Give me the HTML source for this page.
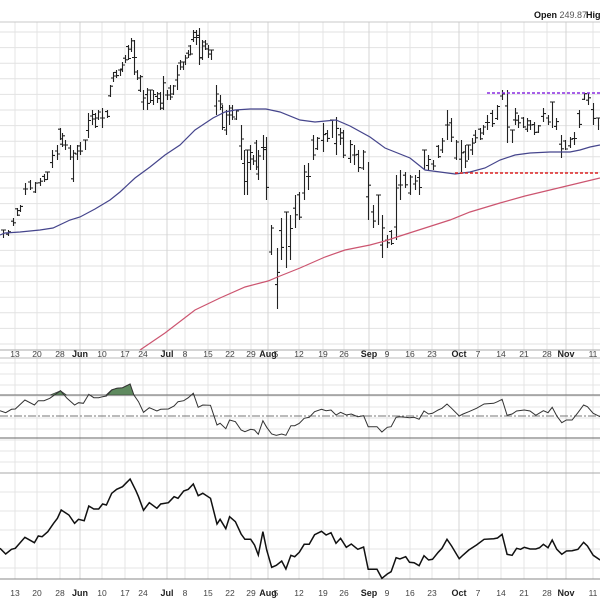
<!DOCTYPE html>
<html><head><meta charset="utf-8"><style>
html,body{margin:0;padding:0;background:#fff;}
svg{display:block;font-family:"Liberation Sans",Arial,sans-serif;}
</style></head><body>
<svg id="s" width="600" height="600" viewBox="0 0 600 600" xmlns="http://www.w3.org/2000/svg">
<rect width="600" height="600" fill="#fff"/>
<g id="grid"></g>
<g id="main"></g>
<text x="534" y="18" font-size="9" font-weight="bold" fill="#111">Open <tspan font-weight="normal" fill="#555">249.87</tspan>  <tspan x="586">High</tspan></text>
</svg>
<script>
const NS="http://www.w3.org/2000/svg";
const g=document.getElementById('grid'), m=document.getElementById('main');
function el(p,tag,a){const e=document.createElementNS(NS,tag);for(const k in a)e.setAttribute(k,a[k]);p.appendChild(e);return e;}
const labels=[["13",15],["20",37],["28",60],["Jun",80,1],["10",102],["17",125],["24",143],["Jul",167,1],["8",185],["15",208],["22",230],["29",251],["Aug",268,1],["5",276],["12",299],["19",323],["26",344],["Sep",369,1],["9",387],["16",410],["23",432],["Oct",459,1],["7",478],["14",501],["21",524],["28",547],["Nov",566,1],["11",593]];
// horizontal grid
for(let y=32;y<350;y+=15.6) el(g,'line',{x1:0,x2:600,y1:y,y2:y,stroke:'#e2e2e2','stroke-width':1});
for(let y=363;y<473;y+=11) el(g,'line',{x1:0,x2:600,y1:y,y2:y,stroke:'#e6e6e6','stroke-width':1});
for(let y=492;y<579;y+=19) el(g,'line',{x1:0,x2:600,y1:y,y2:y,stroke:'#e6e6e6','stroke-width':1});
labels.forEach(l=>{ if(l[0]==="5")return;
 el(g,'line',{x1:l[1],x2:l[1],y1:22,y2:579,stroke:l[2]?'#d4d4d4':'#e4e4e4','stroke-width':1});});
// borders
el(g,'line',{x1:0,x2:600,y1:22,y2:22,stroke:'#c8c8c8'});
el(g,'line',{x1:0,x2:600,y1:350,y2:350,stroke:'#aaa'});
el(g,'line',{x1:0,x2:600,y1:358,y2:358,stroke:'#bbb'});
el(g,'line',{x1:0,x2:600,y1:473,y2:473,stroke:'#aaa'});
el(g,'line',{x1:0,x2:600,y1:579,y2:579,stroke:'#888'});
el(g,'line',{x1:0,x2:600,y1:395,y2:395,stroke:'#666'});
el(g,'line',{x1:0,x2:600,y1:438,y2:438,stroke:'#666'});
el(g,'line',{x1:0,x2:600,y1:416,y2:416,stroke:'#777','stroke-dasharray':'8,2,2,2'});
// labels
[354,593].forEach(y=>labels.forEach(l=>{const t=el(m,'text',{x:l[1],y:y+3,'font-size':l[2]?9:8.5,'font-weight':l[2]?'bold':'normal',fill:l[2]?'#222':'#444','text-anchor':'middle'});t.textContent=l[0];}));
// bars
const B=[[3,230,238],[8,230,236],[13,218,226],[17,208,216],[20,205,212],[25,183,195],[30,180,190],[35,182,193],[40,178,186],[44,174,182],[47,172,180],[52,150,168],[57,145,160],[60,128,140],[62,133,147],[65,140,150],[70,145,160],[73,150,182],[77,145,160],[80,142,155],[85,140,150],[88,113,138],[92,110,125],[95,113,128],[98,110,120],[102,108,128],[107,110,118],[110,85,97],[113,72,82],[116,70,78],[120,70,76],[122,62,72],[125,55,63],[128,45,60],[131,38,52],[134,40,75],[137,70,80],[140,75,92],[143,90,110],[147,88,110],[150,90,103],[153,90,105],[157,92,103],[160,92,110],[163,76,110],[167,90,100],[170,85,100],[173,85,95],[177,65,90],[180,60,70],[183,62,70],[185,55,65],[188,50,58],[190,45,55],[193,30,42],[196,30,45],[199,28,65],[202,40,60],[205,40,50],[208,45,58],[211,50,60],[216,85,115],[220,95,110],[222,105,130],[226,110,135],[229,105,125],[232,105,120],[236,110,120],[241,125,160],[244,150,195],[247,150,195],[250,145,170],[253,155,165],[256,140,170],[258,150,180],[263,135,160],[266,137,200],[271,225,255],[277,248,309],[281,218,260],[286,212,268],[290,215,260],[295,195,228],[299,192,220],[304,165,200],[308,163,190],[313,135,160],[317,137,150],[323,123,152],[327,130,142],[332,120,138],[336,117,155],[340,128,145],[343,130,158],[350,140,163],[354,145,165],[358,150,172],[363,150,170],[368,162,220],[373,205,228],[378,195,225],[382,215,258],[387,235,248],[391,230,245],[396,175,240],[400,170,200],[405,172,188],[410,175,195],[415,175,190],[419,170,195],[424,150,170],[428,155,170],[433,160,170],[438,145,158],[442,138,153],[447,110,140],[451,118,142],[456,140,160],[461,140,172],[465,145,168],[468,145,160],[472,138,155],[475,130,143],[480,128,140],[483,125,135],[487,115,130],[492,110,127],[497,105,120],[502,90,100],[507,90,143],[512,130,143],[515,108,125],[518,115,128],[523,117,128],[527,118,132],[530,120,130],[534,122,135],[538,125,133],[543,108,122],[548,115,125],[552,102,128],[556,118,130],[561,135,158],[565,140,150],[570,137,148],[574,132,145],[579,110,128],[584,93,100],[588,93,105],[593,103,125],[598,118,130]];
let d='';B.forEach((b,i)=>{const [x,h,l]=b;const r=l-h;const o=h+r*((i*37%10)/10),c=h+r*((i*53%10)/10);
d+=`M${x}.5 ${h}V${l}M${x-2} ${o.toFixed(1)}H${x}.5M${x}.5 ${c.toFixed(1)}H${x+3}`;});
el(m,'path',{d:d,stroke:'#222','stroke-width':1.1,fill:'none'});
function pl(pts,a){el(m,'polyline',Object.assign({points:pts.map(p=>p.join(',')).join(' '),fill:'none'},a));}
pl([[0,235],[5,233],[20,232],[40,230],[53,228],[70,220],[80,217],[95,209],[110,200],[120,192],[135,178],[150,167],[165,155],[180,145],[195,130],[213,118],[225,112],[235,110],[250,109],[266,109],[280,112],[300,120],[315,122],[336,120],[350,126],[370,137],[385,148],[410,158],[425,170],[440,172],[455,174],[470,172],[485,168],[500,160],[515,155],[530,153],[550,152],[570,152],[580,150],[590,147],[600,145]],{stroke:'#45458c','stroke-width':1.2});
pl([[140,350],[165,333],[195,310],[220,298],[245,287],[268,281],[280,276],[300,268],[325,257],[345,250],[370,245],[385,241],[400,236],[425,228],[450,220],[470,212],[500,203],[525,196],[550,190],[575,184],[600,178]],{stroke:'#cc5570','stroke-width':1.2});
el(m,'line',{x1:487,x2:600,y1:93,y2:93,stroke:'#8a2be2','stroke-width':1.5,'stroke-dasharray':'3,2'});
el(m,'line',{x1:455,x2:600,y1:173,y2:173,stroke:'#dd2222','stroke-width':1.5,'stroke-dasharray':'3,2'});
const R=[[0,242],[15,248],[30,238],[40,237],[65,210],[90,225],[100,212],[115,212],[130,205],[158,182],[175,205],[195,225],[205,218],[218,220],[232,193],[245,203],[258,203],[268,200],[278,198],[292,180],[305,175],[320,173],[340,162],[350,195],[362,215],[375,247],[390,233],[410,243],[420,238],[440,237],[455,228],[465,215],[480,212],[492,203],[505,190],[518,232],[530,225],[550,226],[567,285],[575,280],[590,296],[600,270],[615,275],[630,300],[640,305],[655,298],[665,300],[675,313],[687,272],[697,292],[710,312],[722,316],[736,312],[747,316],[760,287],[770,287],[782,280],[795,265],[808,262],[822,245],[840,238],[852,242],[865,240],[878,255],[890,247],[905,255],[918,252],[935,260],[950,257],[962,290],[985,290],[998,306],[1012,292],[1022,290],[1035,262],[1045,260],[1060,262],[1070,263],[1082,262],[1095,268],[1108,243],[1120,252],[1130,250],[1145,240],[1155,235],[1168,222],[1180,235],[1200,258],[1210,252],[1225,245],[1245,235],[1265,222],[1290,220],[1300,215],[1312,208],[1325,256],[1338,252],[1350,243],[1370,240],[1385,243],[1400,256],[1420,242],[1432,248],[1443,232],[1455,258],[1468,278],[1480,270],[1495,270],[1510,248],[1525,225],[1535,230],[1550,250],[1568,260]].map(p=>[+(p[0]/2.613).toFixed(1),+(330+p[1]/3).toFixed(1)]);
// green fills
el(m,'polygon',{points:'50,395 60.5,390.7 66.5,395',fill:'#5f8a5f',stroke:'#333','stroke-width':0.6});
el(m,'polygon',{points:'106,395 111.7,389.7 116.7,388.3 122.5,387.7 130,384 134,395',fill:'#5f8a5f',stroke:'#333','stroke-width':0.6});
pl(R,{stroke:'#333','stroke-width':1});
const P=[[0,655],[15,672],[30,658],[40,655],[65,622],[90,638],[100,618],[110,620],[125,605],[140,580],[150,565],[160,540],[180,555],[195,580],[205,568],[220,572],[232,528],[245,537],[258,537],[268,522],[278,525],[292,490],[305,478],[320,470],[340,447],[355,482],[362,500],[375,541],[390,518],[410,535],[420,522],[440,518],[455,500],[465,505],[480,483],[492,478],[505,462],[518,497],[530,490],[550,505],[567,582],[575,568],[590,596],[600,560],[615,575],[630,612],[640,628],[655,628],[665,645],[675,675],[687,605],[697,660],[710,712],[722,706],[736,693],[747,717],[760,676],[770,680],[782,667],[795,643],[808,643],[822,614],[840,604],[852,615],[865,608],[878,640],[890,625],[905,652],[918,642],[935,658],[950,651],[962,718],[985,718],[998,745],[1012,732],[1022,725],[1035,683],[1045,687],[1060,680],[1070,697],[1082,698],[1095,707],[1108,677],[1120,690],[1130,688],[1145,667],[1155,655],[1168,628],[1180,648],[1200,686],[1210,675],[1225,660],[1245,645],[1265,628],[1290,626],[1300,624],[1312,613],[1325,673],[1338,676],[1350,655],[1360,658],[1370,652],[1385,657],[1400,657],[1410,653],[1420,643],[1432,653],[1443,630],[1455,658],[1468,673],[1480,663],[1495,662],[1510,658],[1525,637],[1535,648],[1550,676],[1568,690]].map(p=>[+(p[0]/2.613).toFixed(1),+(330+p[1]/3).toFixed(1)]);
pl(P,{stroke:'#111','stroke-width':1.5});
</script>
</body></html>
